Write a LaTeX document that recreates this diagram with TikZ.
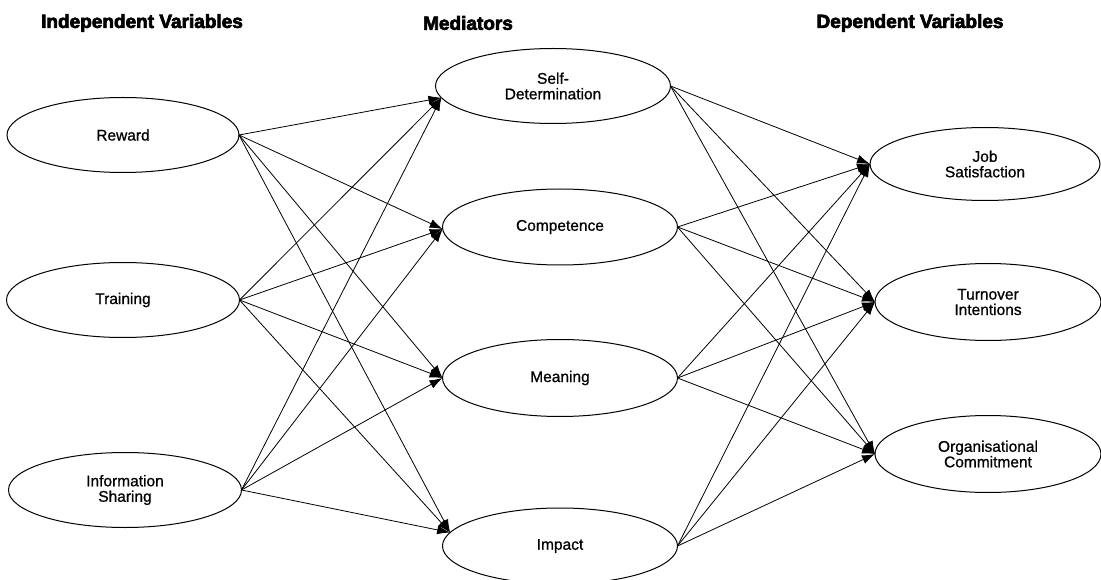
\documentclass[tikz,border=0pt]{standalone}
\usepackage{fontspec}
\setmainfont{Liberation Sans}[FakeBold=0.8]
\newfontfamily\headfont{Liberation Sans}[FakeBold=3.5]
\usetikzlibrary{shapes.geometric,arrows.meta}

\tikzset{
  var/.style={ellipse, draw, line width=1pt, inner sep=0pt, outer sep=0pt,
    align=center, font=\fontsize{15.5}{15.5}\selectfont},
  head/.style={font=\headfont\bfseries\fontsize{19}{19}\selectfont, inner sep=0pt},
  conn/.style={-{Latex[length=13pt,width=9pt]}, line width=0.8pt},
}

\begin{document}
\begin{tikzpicture}[x=1pt,y=-1pt]
  \useasboundingbox (0,0) rectangle (1101,580);

  % column headings
  \node[head] (hiv) at (142,23) {Independent Variables};
  \node[head] (hmd) at (468,23) {Mediators};
  \node[head] (hdv) at (910,23) {Dependent Variables};

  % independent variables
  \node[var, minimum width=232pt, minimum height=75pt] (rw) at (123,135) {Reward};
  \node[var, minimum width=233pt, minimum height=75pt] (tr) at (123,300) {Training};
  \node[var, minimum width=233pt, minimum height=75pt] (is) at (125,490) {Information\\Sharing};

  % mediators
  \node[var, minimum width=235pt, minimum height=75pt] (sd) at (553,86) {Self-\\Determination};
  \node[var, minimum width=235pt, minimum height=76pt] (cp) at (560,227) {Competence};
  \node[var, minimum width=235pt, minimum height=77pt] (mn) at (560,378) {Meaning};
  \node[var, minimum width=235pt, minimum height=76pt] (im) at (560,546) {Impact};

  % dependent variables
  \node[var, minimum width=230pt, minimum height=73pt] (js) at (985,164) {Job\\Satisfaction};
  \node[var, minimum width=226pt, minimum height=77pt] (ti) at (988,302) {Turnover\\Intentions};
  \node[var, minimum width=226pt, minimum height=77pt] (oc) at (988,454) {Organisational\\Commitment};

  % independent variables -> mediators
  \foreach \s in {rw,tr,is}
    \foreach \t/\a in {sd/186, cp/181, mn/180, im/173}
      \draw[conn] (\s.east) -- (\t.\a);

  % mediators -> dependent variables
  \foreach \s in {sd,cp,mn,im}
    \foreach \t in {js,ti,oc}
      \draw[conn] (\s.east) -- (\t.west);
\end{tikzpicture}
\end{document}
